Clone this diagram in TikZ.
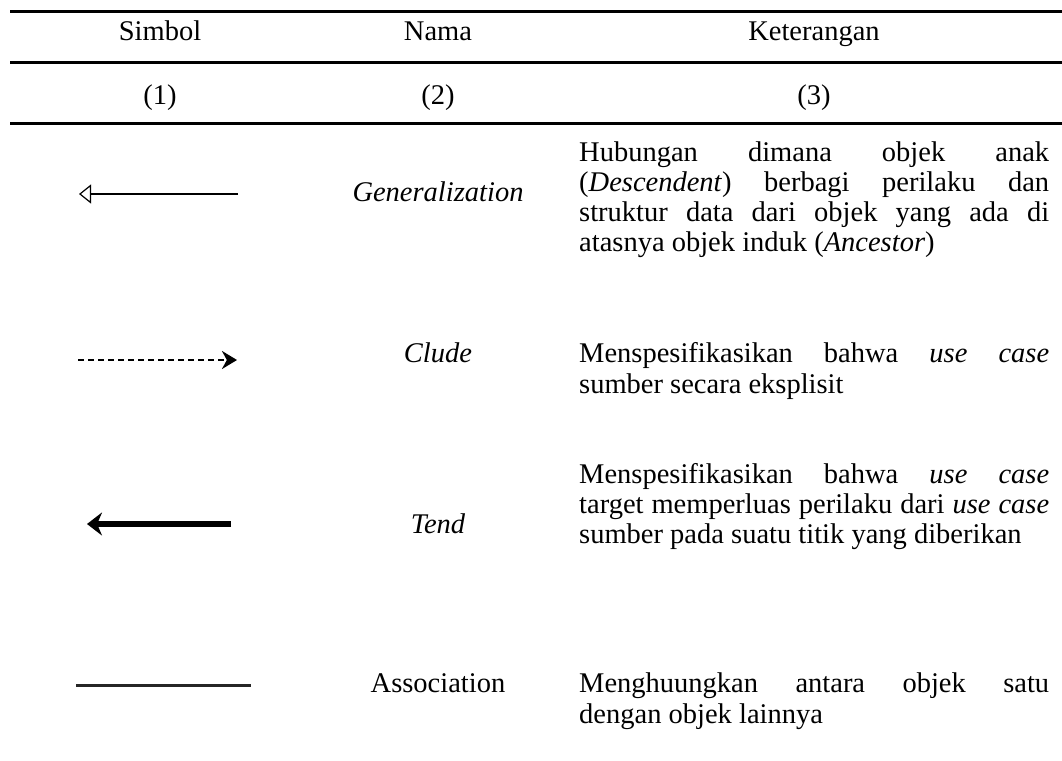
\documentclass[tikz,border=0pt]{standalone}
\usepackage{fontspec}
\setmainfont{Liberation Serif}
\usetikzlibrary{arrows.meta}
% one justified line of the description column
\newcommand{\jline}[1]{\makebox[470pt][s]{#1}}
\begin{document}
\begin{tikzpicture}[x=1pt,y=-1pt,
  txt/.style={inner sep=0pt, anchor=base, font=\fontsize{28.5}{30.5}\selectfont},
  desc/.style={txt, anchor=base west},
  rule/.style={line width=3pt},
]
\useasboundingbox (0,0) rectangle (1062,760);
\fill[white] (0,0) rectangle (1062,760);

% table rules and header
\draw[rule] (10,11.7) -- (1062,11.7);
\node[txt] (hSim) at (160,41) {Simbol};
\node[txt] (hNam) at (438,41) {Nama};
\node[txt] (hKet) at (814,41) {Keterangan};
\draw[rule] (10,63) -- (1062,63);
\node[txt] (c1) at (160,104) {(1)};
\node[txt] (c2) at (438,104) {(2)};
\node[txt] (c3) at (814,104) {(3)};
\draw[rule] (10,123.5) -- (1062,123.5);

% Generalization
\coordinate (gA) at (238,194);
\coordinate (gB) at (79,194);
\draw[line width=1.8pt, -{Triangle[open,length=12pt,width=19pt,line width=1.2pt]}] (gA) -- (gB);
\node[txt] (gName) at (438,201) {\textit{Generalization}};
\node[desc] (g1) at (579,161) {\jline{Hubungan dimana objek anak}};
\node[desc] (g2) at (579,191) {\jline{(\textit{Descendent}) berbagi perilaku dan}};
\node[desc] (g3) at (579,221) {\jline{struktur data dari objek yang ada di}};
\node[desc] (g4) at (579,251) {atasnya objek induk (\textit{Ancestor})};

% Clude
\coordinate (cA) at (78,360);
\coordinate (cB) at (237,360);
\draw[line width=2.6pt, dash pattern=on 6pt off 4pt, -{Stealth[length=15pt,width=18pt]}] (cA) -- (cB);
\node[txt] (cName) at (438,362) {\textit{Clude}};
\node[desc] (k1) at (579,362) {\jline{Menspesifikasikan bahwa \textit{use case}}};
\node[desc] (k2) at (579,393) {sumber secara eksplisit};

% Tend
\coordinate (tA) at (231,524);
\coordinate (tB) at (87,524);
\draw[line width=5.5pt, -{Stealth[length=15pt,width=23pt]}] (tA) -- (tB);
\node[txt] (tName) at (438,533) {\textit{Tend}};
\node[desc] (t1) at (579,483) {\jline{Menspesifikasikan bahwa \textit{use case}}};
\node[desc] (t2) at (579,513) {\jline{target memperluas perilaku dari \textit{use case}}};
\node[desc] (t3) at (579,543) {sumber pada suatu titik yang diberikan};

% Association
\coordinate (aA) at (76,685.5);
\coordinate (aB) at (251,685.5);
\draw[line width=3.3pt, black!85] (aA) -- (aB);
\node[txt] (aName) at (438,692) {Association};
\node[desc] (a1) at (579,692) {\jline{Menghuungkan antara objek satu}};
\node[desc] (a2) at (579,723) {dengan objek lainnya};
\end{tikzpicture}
\end{document}
